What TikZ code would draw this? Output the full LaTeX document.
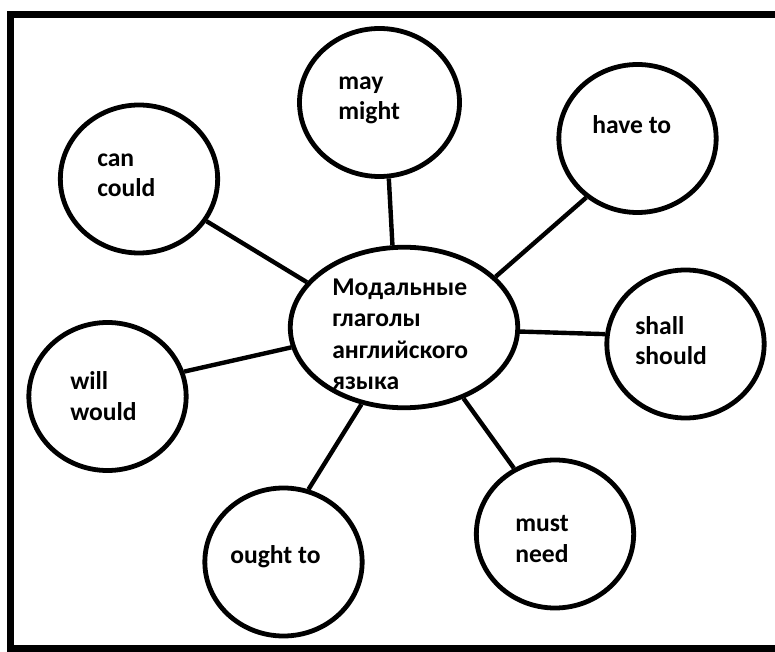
\documentclass[tikz,border=0pt]{standalone}
\usepackage{fontspec}
\setmainfont{Carlito}
\usetikzlibrary{shapes.geometric}

\begin{document}
\begin{tikzpicture}[x=0.75pt, y=-0.75pt,
  bubble/.style={draw, ellipse, line width=3.6pt, minimum width=118pt, minimum height=111pt, inner sep=0pt},
  word/.style={anchor=base west, align=left, inner sep=0pt, font=\fontsize{19.2}{22.8}\selectfont\bfseries},
  link/.style={line width=3.3pt}]
  \useasboundingbox (0,0) rectangle (775,652);
  \clip (0,0) rectangle (775,652);
  \draw[line width=5.6pt] (10.5,14.5) rectangle (790,649);
  % centre and the seven bubbles
  \node[bubble, minimum width=170.6pt, minimum height=120.4pt] (modal) at (404,327.5) {};
  \node[bubble, minimum width=120pt] (may) at (379.5,102.5) {};
  \node[bubble] (can) at (139,179) {};
  \node[bubble] (have) at (637.5,138.5) {};
  \node[bubble] (shall) at (685.5,344) {};
  \node[bubble] (will) at (107.5,396.5) {};
  \node[bubble] (ought) at (283.5,562) {};
  \node[bubble] (must) at (555,534) {};
  % texts (base = last line)
  \node[word, font=\fontsize{19.2}{23.7}\selectfont\bfseries] (modalT) at (332,390) {Модальные\\глаголы\\английского\\языка};
  \node[word] (mayT) at (338,120) {may\\might};
  \node[word] (canT) at (97,197) {can\\could};
  \node[word] (haveT) at (592,134) {have to};
  \node[word] (shallT) at (635,365) {shall\\should};
  \node[word] (willT) at (70,420) {will\\would};
  \node[word] (oughtT) at (230,563) {ought to};
  \node[word] (mustT) at (515,562) {must\\need};
  % links
  \draw[link] (may.-83) -- (modal.98.5);
  \draw[link] (can.-32.5) -- (modal.155.3);
  \draw[link] (have.229.7) -- (modal.29);
  \draw[link] (shall.173.6) -- (modal.-2.7);
  \draw[link] (will.18.9) -- (modal.190);
  \draw[link] (ought.71.7) -- (modal.241);
  \draw[link] (must.122.5) -- (modal.-50.6);
\end{tikzpicture}
\end{document}
